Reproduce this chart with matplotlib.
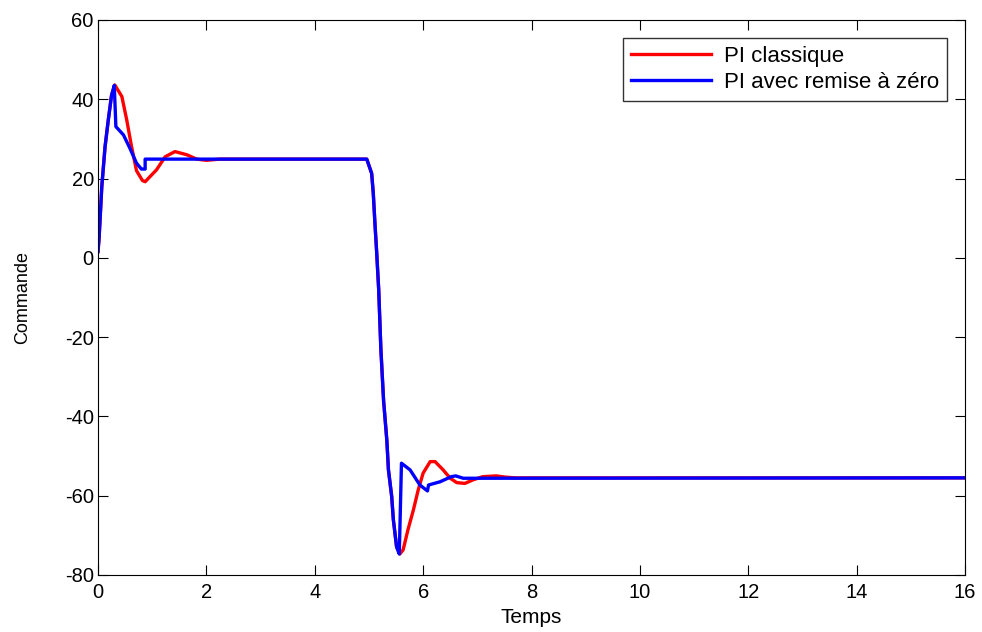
import matplotlib.pyplot as plt

plt.rcParams['font.family'] = ['Liberation Sans', 'DejaVu Sans']
plt.rcParams['axes.unicode_minus'] = False

# PI classique
t_classique = [0, 0.02, 0.07, 0.13, 0.19, 0.25, 0.31, 0.44, 0.53, 0.62, 0.71, 0.82, 0.87,
               1.08, 1.24, 1.42, 1.64, 1.82, 2.0, 2.25, 4.96, 5.05, 5.08, 5.11, 5.14,
               5.18, 5.22, 5.27, 5.3, 5.33, 5.36, 5.42, 5.45, 5.51, 5.57, 5.63, 5.72,
               5.82, 5.91, 6.0, 6.13, 6.22, 6.37, 6.5, 6.62, 6.77, 6.92, 7.1, 7.35,
               7.51, 7.7, 16]
u_classique = [1.6, 5, 18, 28, 34.8, 41, 43.6, 40.7, 34.8, 28, 22, 19.5, 19.2,
               22.2, 25.5, 26.8, 26, 24.9, 24.6, 24.9, 24.9, 21.3, 16.3, 8.8, 2,
               -8, -23, -36, -41, -46, -53.5, -60.2, -66, -72.9, -74.7, -73.7, -68.6,
               -63.6, -58.5, -54.3, -51.4, -51.4, -53.5, -55.6, -56.7, -56.9, -56, -55.2, -55,
               -55.3, -55.5, -55.5]

# PI avec remise à zéro
t_remise = [0, 0.02, 0.07, 0.13, 0.19, 0.25, 0.30, 0.33, 0.47, 0.59, 0.71, 0.8, 0.87,
            0.87, 4.96, 5.05, 5.08, 5.11, 5.14, 5.18, 5.22, 5.27, 5.3, 5.33, 5.36,
            5.42, 5.45, 5.51, 5.56, 5.6, 5.76, 5.94, 6.08, 6.1, 6.31, 6.52, 6.6,
            6.74, 16]
u_remise = [1.6, 5, 18, 28, 34.8, 41, 43.5, 33.1, 31, 27.6, 23.9, 22.4, 22.4,
            24.9, 24.9, 21.3, 16.3, 8.8, 2, -8, -23, -36, -41, -46, -53.5,
            -60.2, -66, -72.9, -74.7, -51.8, -53.5, -57.3, -58.8, -57.3, -56.5, -55.2, -55,
            -55.6, -55.5]

fig = plt.figure(figsize=(9.82, 6.32), dpi=100)
ax = fig.add_axes([0.0998, 0.0902, 0.8829, 0.8782])

ax.plot(t_classique, u_classique, color='#ff0000', lw=2.4, label='PI classique')
ax.plot(t_remise, u_remise, color='#0000ff', lw=2.4, label='PI avec remise à zéro')

ax.set_xlim(0, 16)
ax.set_ylim(-80, 60)
ax.set_xticks(range(0, 17, 2))
ax.set_yticks(range(-80, 61, 20))
ax.tick_params(direction='in', top=True, right=True, labelsize=14.5, length=7, pad=3)
ax.tick_params(axis='x', pad=6)
ax.set_xlabel('Temps', fontsize=15, labelpad=4)
ax.set_ylabel('Commande', fontsize=13,
              family=['Liberation Sans Narrow', 'Liberation Sans', 'DejaVu Sans'], labelpad=24)

leg = ax.legend(loc='upper right', fontsize=16, fancybox=False, edgecolor='black',
                borderaxespad=0.8, handlelength=3.6, borderpad=0.35, labelspacing=0.25,
                handletextpad=0.6)
leg.get_frame().set_linewidth(1.0)

fig.savefig('out.png', dpi=100)
